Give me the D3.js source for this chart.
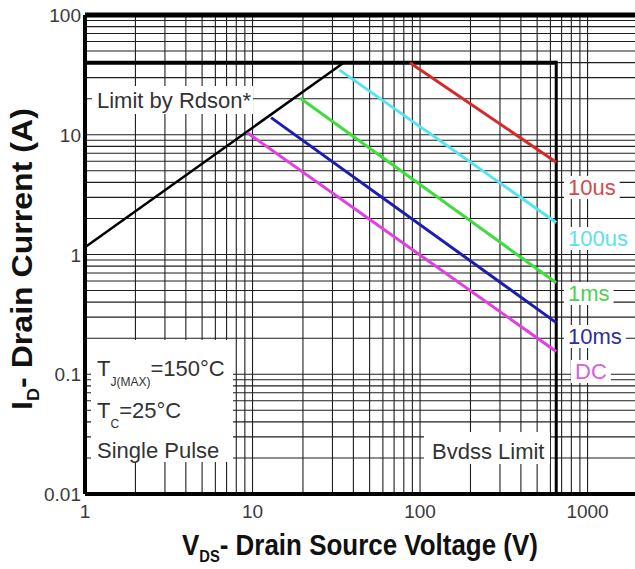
<!DOCTYPE html>
<html>
<head>
<meta charset="utf-8">
<script src="https://cdn.jsdelivr.net/npm/d3@7"></script>
<style>
  body { margin: 0; background: #fff; }
  text { font-family: "Liberation Sans", Arial, sans-serif; }
</style>
</head>
<body>
<svg id="chart" width="635" height="569"></svg>
<script>
// safe operating area
var pulseLabels = ["10us", "100us", "1ms", "10ms", "DC"];
var pulseColors = ["#d42a2a", "#55e4f0", "#3fdc3f", "#1c1cae", "#e040e0"];
var labelColors = ["#d44a4a", "#5ee0ee", "#50d050", "#2e2e9c", "#d860d8"];
var startV = [87, 33, 19.2, 12.9, 9.3];
var startI = [40, 34.8, 20.3, 13.9, 10.4];
var endV = [650, 650, 650, 650, 650];
var endI = [5.9, 1.85, 0.58, 0.27, 0.155];

var rdsonV = [1, 35];
var rdsonI = [1.15, 40];
var idMax = 40;      // A
var bvdss = 650;     // V

var xTickLabels = [1, 10, 100, 1000];
var yTickLabels = [100, 10, 1, 0.1, 0.01];
var yTickText = ["100", "10", "1", "0.1", "0.01"];

// where the curve labels sit (pixel centres, not data)
var labelY = [187, 238, 293, 336, 371];

var svg = d3.select("#chart");

var x = d3.scaleLog().domain([1, 2000]).range([85, 638]);
var y = d3.scaleLog().domain([0.01, 100]).range([494, 15]);

svg.append("rect").attr("width", 635).attr("height", 569).attr("fill", "#fff");

// grid
var grid = svg.append("g").attr("stroke", "#1e1e1e").attr("stroke-width", 1.1);
grid.selectAll("line.v")
    .data(x.ticks())
    .enter().append("line")
    .attr("class", "v")
    .attr("x1", function(d) { return x(d); })
    .attr("x2", function(d) { return x(d); })
    .attr("y1", y(100))
    .attr("y2", y(0.01));
grid.selectAll("line.h")
    .data(y.ticks())
    .enter().append("line")
    .attr("class", "h")
    .attr("x1", x(1))
    .attr("x2", 635)
    .attr("y1", function(d) { return y(d); })
    .attr("y2", function(d) { return y(d); });

// white patches behind the notes
var boxes = [
    [92, 86, 161, 28],
    [91, 340, 142, 122],
    [424, 432, 126, 32]
];
svg.selectAll("rect.box")
    .data(boxes)
    .enter().append("rect")
    .attr("class", "box")
    .attr("x", function(d) { return d[0]; })
    .attr("y", function(d) { return d[1]; })
    .attr("width", function(d) { return d[2]; })
    .attr("height", function(d) { return d[3]; })
    .attr("fill", "#fff");

// frame
var frame = svg.append("g").attr("stroke", "#000").attr("fill", "none");
frame.append("line").attr("x1", x(1)).attr("x2", 635).attr("y1", y(100)).attr("y2", y(100)).attr("stroke-width", 5);
frame.append("line").attr("x1", x(1)).attr("x2", 635).attr("y1", y(0.01)).attr("y2", y(0.01)).attr("stroke-width", 4);
frame.append("line").attr("x1", x(1)).attr("x2", x(1)).attr("y1", y(100)).attr("y2", y(0.01)).attr("stroke-width", 4);

// Id max and Bvdss limits
frame.append("line").attr("x1", x(1)).attr("x2", x(bvdss)).attr("y1", y(idMax)).attr("y2", y(idMax)).attr("stroke-width", 4);
frame.append("line").attr("x1", x(bvdss)).attr("x2", x(bvdss)).attr("y1", y(idMax) - 2).attr("y2", y(0.01)).attr("stroke-width", 3);

// Rdson limit
svg.append("line")
    .attr("x1", x(rdsonV[0])).attr("y1", y(rdsonI[0]))
    .attr("x2", x(rdsonV[1])).attr("y2", y(rdsonI[1]))
    .attr("stroke", "#000").attr("stroke-width", 2.5);

// pulse lines
svg.selectAll("line.pulse")
    .data(pulseLabels)
    .enter().append("line")
    .attr("class", "pulse")
    .attr("x1", function(d, i) { return x(startV[i]); })
    .attr("y1", function(d, i) { return y(startI[i]); })
    .attr("x2", function(d, i) { return x(endV[i]); })
    .attr("y2", function(d, i) { return y(endI[i]); })
    .attr("stroke", function(d, i) { return pulseColors[i]; })
    .attr("stroke-width", 3);

// curve labels with white patches
var lab = svg.selectAll("g.lab")
    .data(pulseLabels)
    .enter().append("g")
    .attr("class", "lab");
var labText = lab.append("text")
    .attr("x", function(d) { return d == "DC" ? 575 : 568; })
    .attr("y", function(d, i) { return labelY[i] + 8; })
    .attr("font-size", 22)
    .attr("fill", function(d, i) { return labelColors[i]; })
    .text(function(d) { return d; });
labText.each(function() {
    var b = this.getBBox();
    d3.select(this.parentNode).insert("rect", "text")
        .attr("x", b.x - 4).attr("y", b.y + 1)
        .attr("width", b.width + 8).attr("height", b.height - 2)
        .attr("fill", "#fff");
});

// tick labels
svg.selectAll("text.xt")
    .data(xTickLabels)
    .enter().append("text")
    .attr("class", "xt")
    .attr("x", function(d) { return x(d); })
    .attr("y", 518)
    .attr("text-anchor", "middle")
    .attr("font-size", 19)
    .attr("fill", "#3a3a3a")
    .text(function(d) { return d; });

svg.selectAll("text.yt")
    .data(yTickLabels)
    .enter().append("text")
    .attr("class", "yt")
    .attr("x", 81)
    .attr("y", function(d) { return y(d) + 7; })
    .attr("text-anchor", "end")
    .attr("font-size", 19)
    .attr("fill", "#3a3a3a")
    .text(function(d, i) { return yTickText[i]; });

// notes
var note = svg.append("g").attr("fill", "#333").attr("font-size", 22);
note.append("text").attr("x", 97).attr("y", 108).text("Limit by Rdson*");
var tj = note.append("text").attr("x", 97).attr("y", 376);
tj.append("tspan").text("T");
tj.append("tspan").attr("font-size", 12).attr("dy", 10).text("J(MAX)");
tj.append("tspan").attr("dy", -10).text("=150\u00b0C");
var tc = note.append("text").attr("x", 97).attr("y", 418);
tc.append("tspan").text("T");
tc.append("tspan").attr("font-size", 12).attr("dy", 10).text("C");
tc.append("tspan").attr("dy", -10).text("=25\u00b0C");
note.append("text").attr("x", 97).attr("y", 458).text("Single Pulse");
note.append("text").attr("x", 432).attr("y", 459).text("Bvdss Limit");

// axis titles, squeezed a little like the original
var xt = svg.append("g").attr("transform", "translate(182,555)");
var xtt = xt.append("text").attr("font-size", 30).attr("font-weight", "bold").attr("fill", "#111");
xtt.append("tspan").text("V");
xtt.append("tspan").attr("font-size", 17).attr("dy", 7).text("DS");
xtt.append("tspan").attr("dy", -7).text("- Drain Source Voltage (V)");
var xw = xtt.node().getComputedTextLength();
xtt.attr("transform", "scale(" + (356 / xw) + ",1)");

var yt = svg.append("g").attr("transform", "translate(32,410) rotate(-90)");
var ytt = yt.append("text").attr("font-size", 30).attr("font-weight", "bold").attr("fill", "#111");
ytt.append("tspan").text("I");
ytt.append("tspan").attr("font-size", 17).attr("dy", 7).text("D");
ytt.append("tspan").attr("dy", -7).text("- Drain Current (A)");
var yw = ytt.node().getComputedTextLength();
ytt.attr("transform", "scale(" + (302 / yw) + ",1)");
</script>
</body>
</html>
